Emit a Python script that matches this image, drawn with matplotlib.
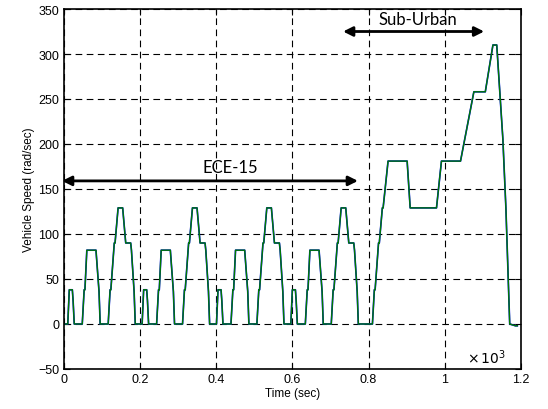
import numpy as np
import matplotlib
matplotlib.use("Agg")
import matplotlib.pyplot as plt

# ECE-15 urban cycle breakpoints (time in s within a cycle, speed in rad/sec)
ece_t = [0, 9, 13, 21, 23, 26, 47, 52, 54, 59, 83, 91, 94, 115, 120, 122, 131, 133,
         141, 153, 161, 174, 176, 183, 186, 195]
ece_v = [0, 0, 38, 38, 26, 0, 0, 38, 38, 82, 82, 36, 0, 0, 38, 38, 90, 90,
         129, 129, 90, 90, 82, 36, 0, 0]
ece_starts = [2, 197, 392, 587]

# EUDC (sub-urban) breakpoints (time in s from its start, speed in rad/sec)
eudc_t = [0, 20, 25, 27, 36, 38, 46, 48, 61, 111, 119, 188, 201, 251, 286, 316,
          336, 346, 362, 370, 380, 395, 400]
eudc_v = [0, 0, 38, 38, 90, 90, 129, 129, 181, 181, 129, 129, 181, 181, 258, 258,
          310, 310, 206, 129, 0, -2, -2]
eudc_start = 790

t_all = []
v_all = []
for s in ece_starts:
    t_all += [s + t for t in ece_t]
    v_all += ece_v
t_all += [eudc_start + t for t in eudc_t]
v_all += eudc_v
t_all = np.array(t_all) / 1000.0
v_all = np.array(v_all)

plt.rcParams['font.family'] = ['Liberation Sans', 'DejaVu Sans']

fig = plt.figure(figsize=(5.48, 4.10), dpi=100)
ax = fig.add_axes([0.116, 0.0976, 0.835, 0.878])

ax.plot(t_all, v_all, color='#0000ff', lw=1.2)
ax.plot(t_all, v_all, color='#007a00', lw=1.0)

ax.set_xlim(0, 1.2)
ax.set_ylim(-50, 350)
ax.set_xticks([0, 0.2, 0.4, 0.6, 0.8, 1, 1.2])
ax.set_xticklabels(['0', '0.2', '0.4', '0.6', '0.8', '1', '1.2'])
ax.set_yticks(np.arange(-50, 351, 50))
ax.tick_params(direction='in', top=True, right=True, labelsize=9, length=4, pad=3)
ax.grid(True, color='black', linestyle=(0, (6, 4)), lw=0.8)
for sp in ax.spines.values():
    sp.set_linewidth(1.2)

ax.set_xlabel('Time (sec)', fontsize=8.5, labelpad=1)
ax.set_ylabel('Vehicle Speed (rad/sec)', fontsize=8.5, labelpad=2)

ax.text(1.16, -36, r'$\times\,10^3$', fontsize=10, ha='right', va='center',
        family='DejaVu Sans')

ax.annotate('', xy=(-0.004, 159), xytext=(0.772, 159), annotation_clip=False,
            arrowprops=dict(arrowstyle='<|-|>', lw=2, color='black', mutation_scale=14,
                            shrinkA=0, shrinkB=0))
ax.text(0.437, 174, 'ECE-15', fontsize=12, ha='center', va='center', family='Lato')

ax.annotate('', xy=(0.733, 325), xytext=(1.103, 325), annotation_clip=False,
            arrowprops=dict(arrowstyle='<|-|>', lw=2, color='black', mutation_scale=14,
                            shrinkA=0, shrinkB=0))
ax.text(0.93, 339, 'Sub-Urban', fontsize=12, ha='center', va='center', family='Lato')

fig.savefig('out.png', dpi=100)
